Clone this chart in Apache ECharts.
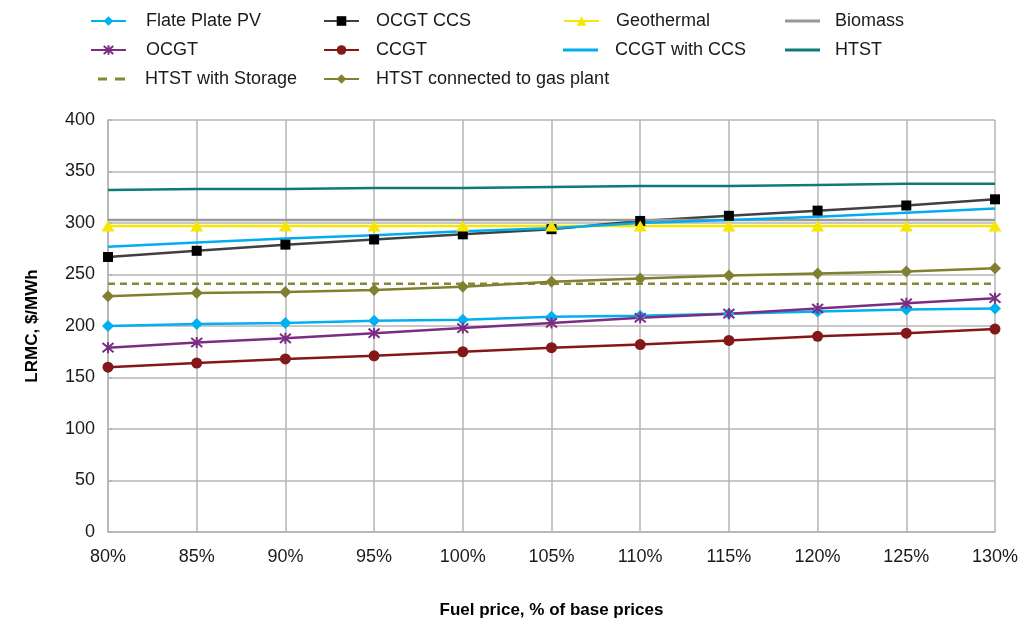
<!DOCTYPE html>
<html>
<head>
<meta charset="utf-8">
<title>LRMC vs fuel price</title>
<script src="https://cdn.jsdelivr.net/npm/echarts@6/dist/echarts.min.js"></script>
<style>
  html, body { margin: 0; padding: 0; background: #ffffff; }
  #chart { width: 1027px; height: 625px; }
</style>
</head>
<body>
<div id="chart"></div>
<script>
// Fuel price scenarios (x axis)
const categories = ['80%', '85%', '90%', '95%', '100%', '105%', '110%', '115%', '120%', '125%', '130%'];

// LRMC, $/MWh for each technology
const flatePlatePV   = [200, 202, 203, 205, 206, 209, 210, 212, 214, 216, 217];
const ocgtCCS        = [267, 273, 279, 284, 289, 294, 302, 307, 312, 317, 323];
const geothermal     = [297, 297, 297, 297, 297, 297, 297, 297, 297, 297, 297];
const biomass        = [303, 303, 303, 303, 303, 303, 303, 303, 303, 303, 303];
const ocgt           = [179, 184, 188, 193, 198, 203, 208, 212, 217, 222, 227];
const ccgt           = [160, 164, 168, 171, 175, 179, 182, 186, 190, 193, 197];
const ccgtCCS        = [277, 281, 285, 288, 292, 295, 300, 303, 306, 310, 314];
const htst           = [332, 333, 333, 334, 334, 335, 336, 336, 337, 338, 338];
const htstStorage    = [241, 241, 241, 241, 241, 241, 241, 241, 241, 241, 241];
const htstGas        = [229, 232, 233, 235, 238, 243, 246, 249, 251, 253, 256];

// Y axis range
const yMin = 0, yMax = 400, yStep = 50;

const FONT = '"Liberation Sans", Arial, sans-serif';
const GRID_COLOR = '#b4b4b4';

const asterisk = 'path://M0,0L10,10M10,0L0,10M5,-1L5,11';
const dashIcon = 'path://M0,0h9v3h-9zM17,0h10v3h-10z';

function lineSeries(name, data, color, opts) {
  opts = opts || {};
  return {
    name: name,
    type: 'line',
    data: data,
    symbol: opts.symbol || 'none',
    symbolSize: opts.symbolSize || 10,
    showAllSymbol: true,
    lineStyle: { color: color, width: 2.5, type: opts.dash ? [7, 5] : 'solid' },
    itemStyle: {
      color: opts.symbolColor || color,
      borderColor: opts.symbolColor || color,
      borderWidth: opts.borderWidth || 0
    },
    emphasis: { disabled: true },
    z: 2
  };
}

const series = [
  lineSeries('Flate Plate PV', flatePlatePV, '#00b0f0', { symbol: 'diamond', symbolSize: 12 }),
  lineSeries('OCGT CCS', ocgtCCS, '#404040', { symbol: 'rect', symbolSize: 10, symbolColor: '#000000' }),
  lineSeries('Geothermal', geothermal, '#f7e600', { symbol: 'triangle', symbolSize: [13, 11] }),
  lineSeries('Biomass', biomass, '#989898'),
  lineSeries('OCGT', ocgt, '#7c2d83', { symbol: asterisk, symbolSize: 11, borderWidth: 2 }),
  lineSeries('CCGT', ccgt, '#84171a', { symbol: 'circle', symbolSize: 11 }),
  lineSeries('CCGT with CCS', ccgtCCS, '#00aeef'),
  lineSeries('HTST', htst, '#0f7b78'),
  lineSeries('HTST with Storage', htstStorage, '#878736', { dash: true }),
  lineSeries('HTST connected to gas plant', htstGas, '#808030', { symbol: 'diamond', symbolSize: 12 })
];

// Legend placement: four columns, three rows
const legendCols = [90, 323, 563, 785];
const legendPads = [15, 12, 12, 10];
const legendRows = [12, 41, 70];
const legends = series.map(function (s, i) {
  const plain = s.symbol === 'none';
  const dashed = Array.isArray(s.lineStyle.type);
  const item = { name: s.name };
  let left = legendCols[i % 4];
  let width = 35;
  let height = 12;
  if (dashed) {
    item.icon = dashIcon;
    left += 8; width = 27; height = 3;
  } else if (plain) {
    item.icon = 'rect';
    height = 3;
  }
  return {
    left: left,
    top: legendRows[Math.floor(i / 4)],
    padding: 0,
    data: [item],
    itemWidth: width,
    itemHeight: height,
    selectedMode: false,
    textStyle: { fontFamily: FONT, fontSize: 18, color: '#1a1a1a', padding: [0, 0, 0, legendPads[i % 4]] }
  };
});

const chart = echarts.init(document.getElementById('chart'), null, { renderer: 'canvas' });
chart.setOption({
  animation: false,
  backgroundColor: '#ffffff',
  legend: legends,
  grid: { left: 108, right: 32, top: 120, bottom: 93, containLabel: false },
  xAxis: {
    type: 'category',
    data: categories,
    boundaryGap: false,
    name: 'Fuel price, % of base prices',
    nameLocation: 'middle',
    nameGap: 70,
    nameTextStyle: { fontFamily: FONT, fontSize: 17, fontWeight: 'bold', color: '#000000' },
    axisLine: { show: true, lineStyle: { color: GRID_COLOR, width: 1.5 } },
    axisTick: { show: false },
    axisLabel: { fontFamily: FONT, fontSize: 18, color: '#1a1a1a', margin: 16, interval: 0 },
    splitLine: { show: true, interval: 0, lineStyle: { color: GRID_COLOR, width: 1.5 } }
  },
  yAxis: {
    type: 'value',
    min: yMin,
    max: yMax,
    interval: yStep,
    name: 'LRMC, $/MWh',
    nameLocation: 'middle',
    nameGap: 67,
    nameRotate: 90,
    nameTextStyle: { fontFamily: FONT, fontSize: 17, fontWeight: 'bold', color: '#000000' },
    axisLine: { show: true, lineStyle: { color: GRID_COLOR, width: 1.5 } },
    axisTick: { show: true, inside: true, length: 4, lineStyle: { color: GRID_COLOR, width: 1.5 } },
    axisLabel: { fontFamily: FONT, fontSize: 18, color: '#1a1a1a', margin: 13 },
    splitLine: { show: true, lineStyle: { color: GRID_COLOR, width: 1.5 } }
  },
  series: series
});
</script>
</body>
</html>
